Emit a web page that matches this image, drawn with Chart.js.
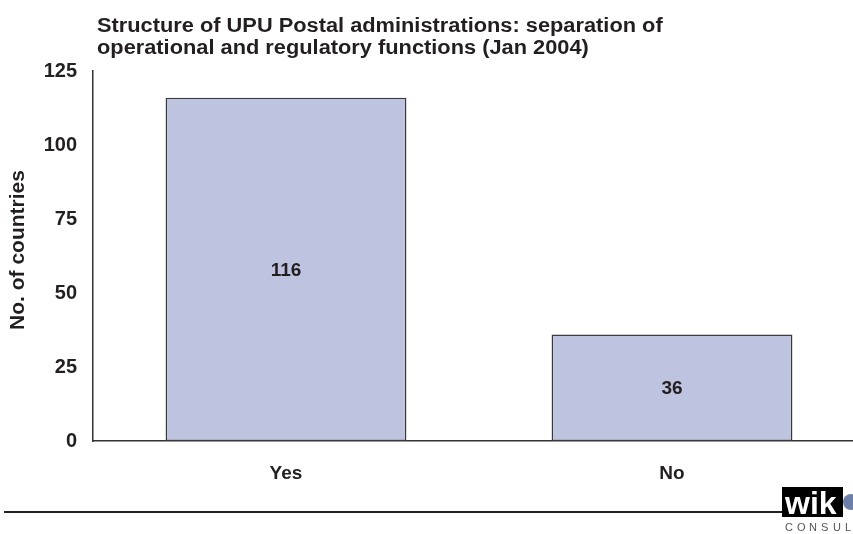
<!DOCTYPE html>
<html>
<head>
<meta charset="utf-8">
<script src="https://cdn.jsdelivr.net/npm/chart.js@4.4.1/dist/chart.umd.min.js"></script>
<style>
    html, body { margin: 0; padding: 0; background: #fff; overflow: hidden; }
    #wrap { width: 870px; height: 534px; }
</style>
</head>
<body>
<div id="wrap"><canvas id="chart" width="870" height="534"></canvas></div>
<script>
const categories = ['Yes', 'No'];
const countries = [116, 36];
const yTicks = [0, 25, 50, 75, 100, 125];
const titleLines = ['Structure of UPU Postal administrations: separation of', 'operational and regulatory functions (Jan 2004)'];
const yTitle = 'No. of countries';

const textColor = '#231f20';
const fontFamily = '"Liberation Sans", Arial, sans-serif';

// title, axis title, value labels, footer rule and logo
const extras = {
    id: 'extras',
    afterDatasetsDraw(chart) {
        const ctx = chart.ctx;
        const meta = chart.getDatasetMeta(0);
        ctx.save();
        ctx.fillStyle = textColor;
        ctx.font = 'bold 19px ' + fontFamily;
        ctx.textAlign = 'center';
        ctx.textBaseline = 'middle';
        meta.data.forEach((bar, i) => {
            ctx.fillText(String(countries[i]), bar.x, (bar.y + bar.base) / 2 + 1);
        });
        ctx.restore();
    },
    afterDraw(chart) {
        const ctx = chart.ctx;
        ctx.save();
        ctx.fillStyle = textColor;
        ctx.font = 'bold 20px ' + fontFamily;
        ctx.textAlign = 'left';
        ctx.textBaseline = 'alphabetic';
        ctx.save();
        ctx.translate(97, 0);
        ctx.scale(1.09, 1);
        ctx.fillText(titleLines[0], 0, 32);
        ctx.fillText(titleLines[1], 0, 54);
        ctx.restore();

        // y axis title
        ctx.save();
        ctx.translate(18, 250);
        ctx.rotate(-Math.PI / 2);
        ctx.font = 'bold 21px ' + fontFamily;
        ctx.textAlign = 'center';
        ctx.textBaseline = 'middle';
        ctx.fillText(yTitle, 0, 0);
        ctx.restore();

        // footer rule
        ctx.strokeStyle = '#222';
        ctx.lineWidth = 2;
        ctx.beginPath();
        ctx.moveTo(4, 512);
        ctx.lineTo(782, 512);
        ctx.stroke();

        // logo
        ctx.fillStyle = '#000';
        ctx.fillRect(782, 487, 61, 30);
        ctx.fillStyle = '#fff';
        ctx.font = 'bold 32px ' + fontFamily;
        ctx.fillText('wik', 785, 514);
        ctx.fillStyle = '#6d7fa8';
        ctx.beginPath();
        ctx.arc(851, 502, 8, 0, Math.PI * 2);
        ctx.fill();
        ctx.fillStyle = '#555';
        ctx.font = '11px ' + fontFamily;
        const letters = 'CONSULT';
        for (let i = 0; i < letters.length; i++) {
            ctx.fillText(letters[i], 785 + i * 12, 531);
        }
        ctx.restore();
    }
};

new Chart(document.getElementById('chart'), {
    type: 'bar',
    data: {
        labels: categories,
        datasets: [{
            data: countries,
            backgroundColor: '#bec3e0',
            borderColor: '#3a3a3a',
            borderWidth: 1.5,
            borderSkipped: false,
            barPercentage: 0.624,
            categoryPercentage: 1
        }]
    },
    options: {
        responsive: false,
        animation: false,
        layout: { padding: { left: 0, top: 71, right: 5, bottom: 0 } },
        plugins: {
            legend: { display: false },
            tooltip: { enabled: false }
        },
        scales: {
            x: {
                grid: { display: false, drawTicks: false },
                border: { display: true, color: '#333', width: 1.5 },
                ticks: {
                    color: textColor,
                    font: { family: fontFamily, size: 19, weight: 'bold' },
                    padding: 21
                },
                afterFit(scale) { scale.height = 93; }
            },
            y: {
                min: 0,
                max: 125,
                grid: { display: false, drawTicks: false },
                border: { display: true, color: '#333', width: 1.5 },
                afterBuildTicks(scale) { scale.ticks = yTicks.map(v => ({ value: v })); },
                ticks: {
                    color: textColor,
                    font: { family: fontFamily, size: 20, weight: 'bold' },
                    padding: 16
                },
                afterFit(scale) { scale.width = 93; }
            }
        }
    },
    plugins: [extras]
});
</script>
</body>
</html>
